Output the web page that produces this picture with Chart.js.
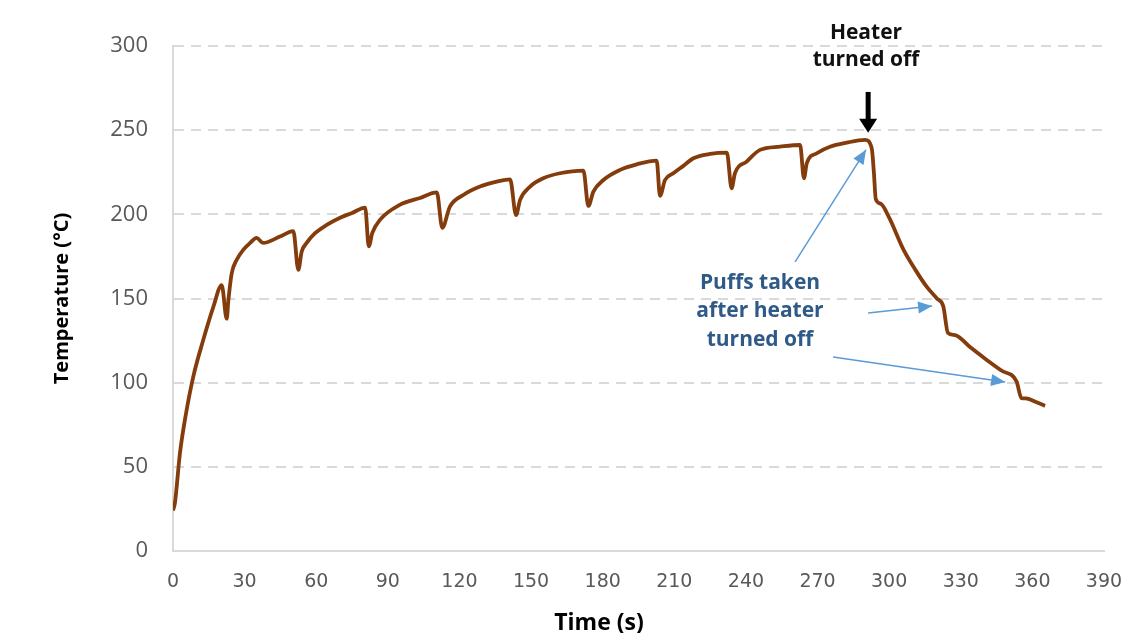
<!DOCTYPE html>
<html>
<head>
<meta charset="utf-8">
<script src="https://cdn.jsdelivr.net/npm/chart.js@4.4.0/dist/chart.umd.min.js"></script>
<style>
  html, body { margin: 0; background: #fff; }
  #wrap { width: 1124px; height: 633px; }
</style>
</head>
<body>
<div id="wrap"><canvas id="chart"></canvas></div>
<script>
// temperature trace (time in s, temperature in °C)
const timeS = [
  0, 0.8, 2.9, 5, 8.5, 12.6, 16.9, 20.4,
  22.5, 23.2, 24.6, 26.7, 29.5, 32.3, 35, 37.8, 44.8, 50.4,
  52.5, 53.9, 56, 59.5, 64.4, 70, 75, 80.5,
  82, 83.5, 86.7, 95, 103.5, 110.5,
  112.8, 116, 121.6, 128.6, 135.6, 141.2,
  143.7, 145.4, 149.6, 155.1, 162.1, 171.9,
  174, 176.1, 180.3, 187.3, 194.3, 202.6,
  204, 206.1, 209.6, 213.8, 218, 225, 232,
  234, 235.4, 240.3, 245.9, 254.3, 262.7,
  264.3, 265.5, 269.7, 275.2, 282.2, 289.9,
  292.7, 293.6, 294.4, 296.5, 300, 306, 311, 315.7, 320, 322.7,
  324.6, 327.6, 334, 340.9, 347, 353.4,
  355.4, 357.6, 361.5, 365.3
];
const tempC = [
  24, 28.5, 58, 78, 103.6, 125, 145, 158,
  138, 149, 165, 173, 179, 183, 186, 183, 186.8, 190,
  167, 177.8, 183, 188.8, 193.7, 198, 200.8, 204,
  181, 189, 196.7, 205.6, 209.7, 213,
  192, 204.6, 211.5, 216.5, 219.4, 220.8,
  199.6, 208.6, 216.5, 221.4, 224.4, 226,
  205, 213.5, 220.4, 226.4, 229.7, 231.9,
  211, 220.4, 224.4, 228.8, 233.3, 235.9, 236.7,
  215.5, 224.4, 231.3, 238.3, 240.2, 241.2,
  221.4, 230.4, 236.3, 240.2, 242.6, 244.2,
  239.2, 225, 209, 206.3, 198, 179, 167, 157, 150, 145.2,
  129.6, 128.3, 121, 113.5, 107.2, 100.6,
  90.8, 90.6, 88.5, 86.2
];

const xTickStep = 30, xMax = 390;
const yTickStep = 50, yMax = 300;

// callouts, anchored in data units (s, °C)
const heaterText = ['Heater', 'turned off'];
const heaterTextAt = [290.3, 307.8];
const heaterArrow = [[291.2, 272.7], [291.2, 248.4]];
const puffText = ['Puffs taken', 'after heater', 'turned off'];
const puffTextAt = [245.9, 159.2];
const puffArrows = [
  [[260.6, 171.7], [290.3, 238.3]],
  [[291.2, 141.4], [318.0, 145.6]],
  [[276.5, 115.3], [348.6, 100.4]]
];

const points = timeS.map((t, i) => ({ x: t, y: tempC[i] }));

function arrowHead(ctx, x0, y0, x1, y1, len, half) {
  const a = Math.atan2(y1 - y0, x1 - x0);
  ctx.beginPath();
  ctx.moveTo(x1, y1);
  ctx.lineTo(x1 - len * Math.cos(a) + half * Math.sin(a), y1 - len * Math.sin(a) - half * Math.cos(a));
  ctx.lineTo(x1 - len * Math.cos(a) - half * Math.sin(a), y1 - len * Math.sin(a) + half * Math.cos(a));
  ctx.closePath();
  ctx.fill();
}

const callouts = {
  id: 'callouts',
  afterDraw(chart) {
    const { ctx, scales: { x, y } } = chart;
    ctx.save();
    ctx.textAlign = 'center';
    ctx.textBaseline = 'middle';

    // heater note + black arrow
    ctx.fillStyle = '#111';
    ctx.font = 'bold 21px "Open Sans"';
    heaterText.forEach((s, i) => {
      ctx.fillText(s, x.getPixelForValue(heaterTextAt[0]), y.getPixelForValue(heaterTextAt[1]) + i * 27);
    });
    const hx = x.getPixelForValue(heaterArrow[0][0]);
    const hy0 = y.getPixelForValue(heaterArrow[0][1]);
    const hy1 = y.getPixelForValue(heaterArrow[1][1]);
    ctx.strokeStyle = '#000';
    ctx.fillStyle = '#000';
    ctx.lineWidth = 5;
    ctx.beginPath();
    ctx.moveTo(hx, hy0);
    ctx.lineTo(hx, hy1 - 10);
    ctx.stroke();
    arrowHead(ctx, hx, hy0, hx, hy1, 14, 9);

    // puffs note + blue arrows
    ctx.fillStyle = '#2F5A88';
    ctx.font = 'bold 21px "Open Sans"';
    puffText.forEach((s, i) => {
      ctx.fillText(s, x.getPixelForValue(puffTextAt[0]), y.getPixelForValue(puffTextAt[1]) + i * 28.5);
    });
    ctx.strokeStyle = '#5B9BD5';
    ctx.fillStyle = '#5B9BD5';
    ctx.lineWidth = 1.5;
    puffArrows.forEach(([p0, p1]) => {
      const x0 = x.getPixelForValue(p0[0]), y0 = y.getPixelForValue(p0[1]);
      const x1 = x.getPixelForValue(p1[0]), y1 = y.getPixelForValue(p1[1]);
      ctx.beginPath();
      ctx.moveTo(x0, y0);
      ctx.lineTo(x1, y1);
      ctx.stroke();
      arrowHead(ctx, x0, y0, x1, y1, 14, 6);
    });

    // x axis title, sits left of centre in the original
    ctx.fillStyle = '#000';
    ctx.font = 'bold 23px "Open Sans"';
    ctx.fillText('Time (s)', 599, 623);
    ctx.restore();
  }
};

new Chart(document.getElementById('chart'), {
  type: 'line',
  data: {
    datasets: [{
      label: 'Temperature',
      data: points,
      borderColor: '#843C0C',
      borderWidth: 3.8,
      pointRadius: 0,
      fill: false,
      cubicInterpolationMode: 'monotone'
    }]
  },
  options: {
    responsive: true,
    maintainAspectRatio: false,
    animation: false,
    layout: { padding: { left: 0, right: 20, top: 46, bottom: 0 } },
    plugins: {
      legend: { display: false },
      tooltip: { enabled: false }
    },
    scales: {
      x: {
        type: 'linear',
        min: 0,
        max: xMax,
        afterFit: s => { s.height = 82; s.paddingRight = 0; s.paddingLeft = 0; },
        grid: { display: false },
        border: { display: true, color: '#D9D9D9', width: 2 },
        ticks: {
          stepSize: xTickStep,
          autoSkip: false,
          maxRotation: 0,
          padding: 12,
          color: '#595959',
          font: { family: 'DejaVu Sans', size: 19 }
        }
      },
      y: {
        min: 0,
        max: yMax,
        afterFit: s => { s.width = 173; },
        grid: {
          color: '#D9D9D9',
          lineWidth: 2,
          drawTicks: false
        },
        border: { display: true, color: '#D9D9D9', width: 2, dash: [10, 7] },
        ticks: {
          stepSize: yTickStep,
          padding: 25,
          color: '#595959',
          font: { family: 'Open Sans', size: 22 }
        },
        title: {
          display: true,
          text: 'Temperature (°C)',
          color: '#000',
          padding: { top: 50, bottom: 0 },
          font: { family: 'Open Sans', size: 20, weight: 'bold' }
        }
      }
    }
  },
  plugins: [callouts]
});
</script>
</body>
</html>
